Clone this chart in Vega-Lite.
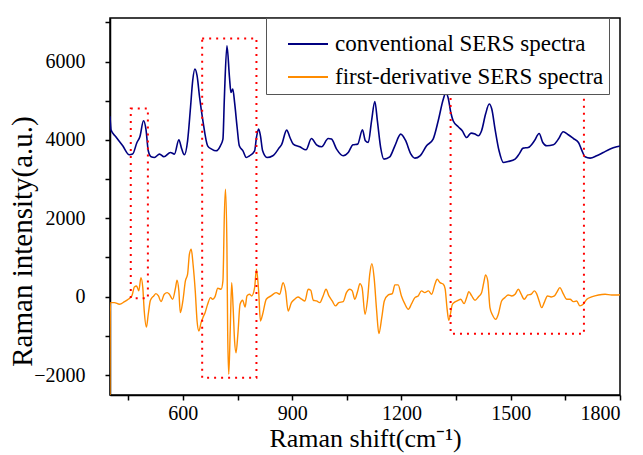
{
  "$schema": "https://vega.github.io/schema/vega-lite/v6.json",
  "width": 510,
  "height": 377,
  "autosize": {"type": "none"},
  "padding": {"left": 110, "top": 18, "right": 23, "bottom": 60},
  "background": "white",
  "config": {
    "font": "Liberation Serif, Times New Roman, serif",
    "view": {"stroke": "black", "strokeWidth": 1.5},
    "style": {"guide-label": {"font": "Liberation Serif, Times New Roman, serif"}, "guide-title": {"font": "Liberation Serif, Times New Roman, serif"}},
    "axis": {"domainColor": "black", "domainWidth": 1.5, "tickColor": "black", "tickWidth": 1.5, "labelColor": "black", "titleColor": "black", "labelFont": "Liberation Serif, Times New Roman, serif", "titleFont": "Liberation Serif, Times New Roman, serif", "titleFontWeight": "normal", "grid": false},
    "legend": {"labelFont": "Liberation Serif, Times New Roman, serif"}
  },
  "datasets": {
    "conv": [
      {"x":400,"y":4600},{"x":403,"y":4250},{"x":416,"y":4079},{"x":435,"y":3849},{"x":453,"y":3619},{"x":462,"y":3637},{"x":474,"y":3933},{"x":482,"y":4079},{"x":492,"y":4487},{"x":499,"y":4250},{"x":505,"y":3721},{"x":513,"y":3568},{"x":522,"y":3550},{"x":536,"y":3637},{"x":548,"y":3568},{"x":566,"y":3678},{"x":577,"y":3637},{"x":589,"y":4002},{"x":597,"y":3765},{"x":604,"y":3619},{"x":613,"y":3977},{"x":621,"y":4827},{"x":627,"y":5509},{"x":633,"y":5808},{"x":639,"y":5637},{"x":646,"y":5083},{"x":655,"y":4487},{"x":668,"y":3849},{"x":679,"y":3765},{"x":691,"y":3721},{"x":703,"y":3849},{"x":710,"y":4020},{"x":714,"y":5083},{"x":721,"y":6403},{"x":728,"y":5593},{"x":732,"y":5210},{"x":737,"y":5297},{"x":742,"y":4955},{"x":749,"y":4316},{"x":755,"y":3849},{"x":765,"y":3721},{"x":774,"y":3550},{"x":783,"y":3594},{"x":797,"y":3721},{"x":802,"y":4061},{"x":808,"y":4275},{"x":813,"y":4104},{"x":819,"y":3721},{"x":831,"y":3550},{"x":847,"y":3594},{"x":865,"y":3805},{"x":871,"y":3880},{"x":885,"y":4250},{"x":894,"y":4061},{"x":903,"y":3892},{"x":921,"y":3823},{"x":938,"y":3747},{"x":953,"y":4035},{"x":967,"y":3874},{"x":981,"y":3823},{"x":999,"y":4035},{"x":1008,"y":4020},{"x":1022,"y":3765},{"x":1040,"y":3594},{"x":1054,"y":3678},{"x":1067,"y":3874},{"x":1080,"y":3892},{"x":1093,"y":4258},{"x":1101,"y":3977},{"x":1109,"y":3933},{"x":1118,"y":4487},{"x":1127,"y":4981},{"x":1134,"y":4487},{"x":1143,"y":3805},{"x":1152,"y":3509},{"x":1168,"y":3568},{"x":1182,"y":3849},{"x":1198,"y":4148},{"x":1211,"y":3994},{"x":1226,"y":3637},{"x":1237,"y":3535},{"x":1251,"y":3594},{"x":1269,"y":3849},{"x":1287,"y":4020},{"x":1301,"y":4487},{"x":1315,"y":5042},{"x":1322,"y":5210},{"x":1328,"y":5083},{"x":1336,"y":4680},{"x":1342,"y":4487},{"x":1356,"y":4334},{"x":1367,"y":4232},{"x":1379,"y":4061},{"x":1391,"y":4173},{"x":1402,"y":4148},{"x":1411,"y":4104},{"x":1420,"y":4232},{"x":1431,"y":4658},{"x":1441,"y":4914},{"x":1448,"y":4786},{"x":1457,"y":4275},{"x":1468,"y":3721},{"x":1480,"y":3422},{"x":1493,"y":3448},{"x":1512,"y":3509},{"x":1523,"y":3637},{"x":1534,"y":3790},{"x":1548,"y":3805},{"x":1565,"y":3977},{"x":1578,"y":4163},{"x":1588,"y":3933},{"x":1599,"y":3849},{"x":1617,"y":3874},{"x":1631,"y":4020},{"x":1644,"y":4206},{"x":1658,"y":4130},{"x":1672,"y":4035},{"x":1686,"y":3933},{"x":1695,"y":3739},{"x":1704,"y":3568},{"x":1718,"y":3535},{"x":1736,"y":3594},{"x":1754,"y":3678},{"x":1773,"y":3765},{"x":1791,"y":3823},{"x":1800,"y":3845}
    ],
    "deriv": [
      {"x":400,"y":-2600},{"x":401,"y":-153},{"x":412,"y":-153},{"x":426,"y":-195},{"x":440,"y":-128},{"x":450,"y":-66},{"x":460,"y":18},{"x":467,"y":248},{"x":473,"y":273},{"x":479,"y":146},{"x":485,"y":485},{"x":490,"y":230},{"x":494,"y":-365},{"x":500,"y":-774},{"x":505,"y":-450},{"x":511,"y":-92},{"x":520,"y":18},{"x":526,"y":77},{"x":533,"y":18},{"x":540,"y":-128},{"x":549,"y":61},{"x":557,"y":102},{"x":563,"y":61},{"x":572,"y":-66},{"x":580,"y":230},{"x":584,"y":419},{"x":589,"y":146},{"x":593,"y":-409},{"x":600,"y":-110},{"x":607,"y":401},{"x":613,"y":572},{"x":618,"y":1083},{"x":623,"y":1211},{"x":628,"y":827},{"x":634,"y":146},{"x":639,"y":-621},{"x":644,"y":-876},{"x":650,"y":-664},{"x":655,"y":-536},{"x":661,"y":-409},{"x":668,"y":-195},{"x":676,"y":-25},{"x":682,"y":-66},{"x":688,"y":-8},{"x":696,"y":214},{"x":705,"y":189},{"x":710,"y":401},{"x":714,"y":2104},{"x":717,"y":2743},{"x":721,"y":1251},{"x":723,"y":-876},{"x":726,"y":-1982},{"x":730,"y":-876},{"x":734,"y":358},{"x":738,"y":-281},{"x":742,"y":-1131},{"x":746,"y":-1430},{"x":751,"y":-960},{"x":757,"y":-195},{"x":764,"y":-92},{"x":771,"y":-263},{"x":776,"y":18},{"x":783,"y":61},{"x":789,"y":18},{"x":797,"y":230},{"x":802,"y":700},{"x":808,"y":146},{"x":813,"y":-621},{"x":819,"y":-450},{"x":829,"y":-66},{"x":842,"y":18},{"x":856,"y":102},{"x":866,"y":61},{"x":875,"y":358},{"x":882,"y":146},{"x":889,"y":-365},{"x":898,"y":-153},{"x":907,"y":-66},{"x":916,"y":-8},{"x":926,"y":-66},{"x":935,"y":-110},{"x":944,"y":189},{"x":951,"y":163},{"x":958,"y":-92},{"x":967,"y":-110},{"x":976,"y":-153},{"x":985,"y":18},{"x":993,"y":189},{"x":1001,"y":18},{"x":1010,"y":-110},{"x":1019,"y":-237},{"x":1028,"y":-153},{"x":1040,"y":-128},{"x":1049,"y":102},{"x":1058,"y":189},{"x":1065,"y":146},{"x":1072,"y":-66},{"x":1080,"y":146},{"x":1086,"y":332},{"x":1092,"y":230},{"x":1100,"y":-450},{"x":1107,"y":-66},{"x":1113,"y":572},{"x":1119,"y":843},{"x":1125,"y":485},{"x":1132,"y":-365},{"x":1138,"y":-945},{"x":1146,"y":-536},{"x":1153,"y":-110},{"x":1164,"y":43},{"x":1175,"y":77},{"x":1182,"y":299},{"x":1191,"y":299},{"x":1200,"y":18},{"x":1209,"y":-179},{"x":1219,"y":-322},{"x":1228,"y":-179},{"x":1237,"y":-25},{"x":1246,"y":18},{"x":1255,"y":146},{"x":1264,"y":102},{"x":1274,"y":146},{"x":1283,"y":61},{"x":1292,"y":317},{"x":1298,"y":444},{"x":1306,"y":358},{"x":1315,"y":317},{"x":1320,"y":200},{"x":1325,"y":-281},{"x":1330,"y":-603},{"x":1340,"y":-195},{"x":1347,"y":-135},{"x":1356,"y":-92},{"x":1363,"y":-66},{"x":1372,"y":-179},{"x":1379,"y":-25},{"x":1385,"y":128},{"x":1393,"y":18},{"x":1402,"y":-92},{"x":1411,"y":-8},{"x":1420,"y":102},{"x":1426,"y":358},{"x":1431,"y":554},{"x":1437,"y":401},{"x":1443,"y":-281},{"x":1450,"y":-467},{"x":1459,"y":-577},{"x":1466,"y":-450},{"x":1475,"y":-110},{"x":1484,"y":-25},{"x":1493,"y":43},{"x":1503,"y":18},{"x":1512,"y":61},{"x":1521,"y":189},{"x":1528,"y":77},{"x":1537,"y":-66},{"x":1547,"y":43},{"x":1556,"y":61},{"x":1565,"y":146},{"x":1571,"y":77},{"x":1578,"y":-110},{"x":1585,"y":-281},{"x":1592,"y":-153},{"x":1601,"y":18},{"x":1611,"y":-8},{"x":1620,"y":18},{"x":1626,"y":102},{"x":1635,"y":230},{"x":1644,"y":77},{"x":1654,"y":-66},{"x":1663,"y":-66},{"x":1672,"y":-128},{"x":1681,"y":-110},{"x":1690,"y":-237},{"x":1699,"y":-195},{"x":1709,"y":-66},{"x":1722,"y":-8},{"x":1741,"y":43},{"x":1759,"y":61},{"x":1777,"y":43},{"x":1791,"y":43},{"x":1800,"y":50}
    ],
    "boxes": [
      {"x1":457,"x2":504,"y1":-40,"y2":4800},
      {"x1":653,"x2":802,"y1":-2070,"y2":6590},
      {"x1":1335,"x2":1701,"y1":-945,"y2":5580}
    ]
  },
  "layer": [
    {
      "data": {"name": "conv"},
      "mark": {"type": "line", "strokeWidth": 1.6, "clip": true, "interpolate": "monotone"},
      "encoding": {
        "x": {"field": "x", "type": "quantitative", "scale": {"domain": [400, 1800], "nice": false, "zero": false},
          "axis": {"title": "Raman shift(cm⁻¹)", "titleFontSize": 26, "titlePadding": 2, "labelFontSize": 20, "tickSize": 5, "labelPadding": 3,
            "labelFont": "Liberation Serif", "titleFont": "Liberation Serif",
            "values": [450,600,750,900,1050,1200,1350,1500,1650,1800], "labelExpr": "datum.value % 300 == 0 ? datum.label : ''", "format": "d"}},
        "y": {"field": "y", "type": "quantitative", "scale": {"domain": [-2510, 7110], "nice": false, "zero": false},
          "axis": {"title": "Raman intensity(a.u.)", "titleFontSize": 29, "titlePadding": -4, "labelFontSize": 20, "tickSize": 5, "labelPadding": 20,
            "labelFont": "Liberation Serif", "titleFont": "Liberation Serif",
            "values": [-2000,-1000,0,1000,2000,3000,4000,5000,6000,7000], "labelExpr": "datum.value % 2000 == 0 ? datum.label : ''", "format": "d", "titleY": 223}},
        "color": {"datum": "conventional SERS spectra", "type": "nominal",
          "scale": {"domain": ["conventional SERS spectra", "first-derivative SERS spectra"], "range": ["#000080", "#ff8c00"]},
          "legend": {"title": null, "orient": "none", "legendX": 156, "legendY": 0, "fillColor": "white", "strokeColor": "#555555", "padding": 5,
            "symbolType": "stroke", "symbolSize": 1600, "symbolStrokeWidth": 2, "symbolOffset": 16, "labelFontSize": 23, "labelFont": "Liberation Serif", "labelColor": "black", "labelOffset": 6, "rowPadding": -2, "labelLimit": 400}}
      }
    },
    {
      "data": {"name": "deriv"},
      "mark": {"type": "line", "strokeWidth": 1.4, "clip": true, "interpolate": "monotone"},
      "encoding": {
        "x": {"field": "x", "type": "quantitative"},
        "y": {"field": "y", "type": "quantitative"},
        "color": {"datum": "first-derivative SERS spectra", "type": "nominal"}
      }
    },
    {
      "data": {"name": "boxes"},
      "mark": {"type": "rect", "filled": false, "stroke": "#ff0000", "strokeWidth": 2, "strokeDash": [2, 5]},
      "encoding": {
        "x": {"field": "x1", "type": "quantitative"},
        "x2": {"field": "x2"},
        "y": {"field": "y1", "type": "quantitative"},
        "y2": {"field": "y2"}
      }
    }
  ]
}
